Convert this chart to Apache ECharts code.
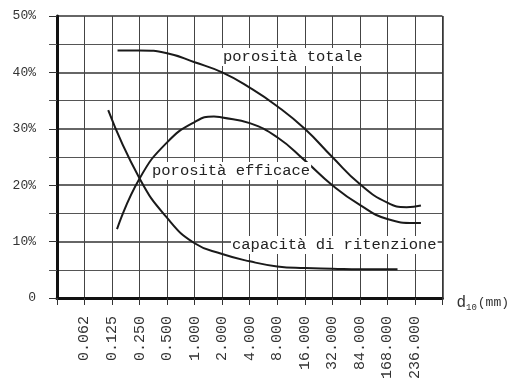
<!DOCTYPE html>
<html>
<head>
<meta charset="utf-8">
<script src="https://cdn.jsdelivr.net/npm/echarts@6/dist/echarts.min.js"></script>
<style>
  html, body { margin: 0; padding: 0; background: #fff; }
  #chart { width: 512px; height: 382px; }
</style>
</head>
<body>
<div id="chart"></div>
<script>
// Grain-size classes d10 (mm); the first and last slots are the frame edges
const sizeLabels = ['', '0.062', '0.125', '0.250', '0.500', '1.000', '2.000', '4.000',
  '8.000', '16.000', '32.000', '84.000', '168.000', '236.000', ''];

// Curves as [class position, percent]
const porositaTotale = [
  [2.2, 43.9], [3, 43.9], [4, 43.4], [5, 41.8], [6, 40.0], [7, 37.3], [8, 34.0],
  [9, 30.0], [10, 25.0], [11, 20.2], [12, 16.9], [12.7, 16.1], [13.22, 16.4]
];
const porositaEfficace = [
  [2.18, 12.2], [3, 21.2], [4, 27.6], [5, 31.2], [5.7, 32.2], [6, 32.0], [7, 31.0],
  [8, 28.5], [9, 24.4], [10, 20.0], [11, 16.5], [12, 14.0], [13, 13.3], [13.22, 13.3]
];
const capacitaRitenzione = [
  [1.86, 33.3], [3, 21.2], [4, 14.2], [5, 9.7], [6, 7.8], [7, 6.5], [8, 5.6],
  [9, 5.3], [10, 5.2], [11, 5.1], [12.37, 5.1]
];

const curveNames = ['porosità totale', 'porosità efficace', 'capacità di ritenzione'];

const mono = '"Liberation Mono", "DejaVu Sans Mono", monospace';
const ink = '#1a1a1a';

const chart = echarts.init(document.getElementById('chart'), null, { renderer: 'canvas' });

function curve(name, data) {
  return {
    name: name,
    type: 'line',
    data: data,
    smooth: 0.5,
    showSymbol: false,
    lineStyle: { color: ink, width: 2 },
    z: 5
  };
}

function curveLabel(text, x, y) {
  return {
    type: 'text',
    x: x, y: y,
    z: 50,
    style: {
      text: text,
      font: '15.5px ' + mono,
      fill: '#222',
      verticalAlign: 'middle',
      backgroundColor: '#fff',
      padding: [1, 1]
    }
  };
}

chart.setOption({
  backgroundColor: '#fff',
  animation: false,
  grid: { left: 57, right: 69, top: 16, bottom: 84 },
  xAxis: {
    type: 'value',
    min: 0, max: sizeLabels.length - 1, interval: 1,
    axisLine: { show: true, lineStyle: { color: '#111', width: 3 } },
    axisTick: { show: true, length: 7, lineStyle: { color: '#333', width: 1 } },
    axisLabel: {
      rotate: 90,
      margin: 18,
      showMinLabel: true, showMaxLabel: true,
      color: '#333',
      fontFamily: mono,
      fontSize: 15,
      formatter: v => sizeLabels[Math.round(v)] || ''
    },
    splitLine: { show: true, lineStyle: { color: '#444', width: 1 } },
    name: '{d|d}{s|10}{m|(mm)}',
    nameLocation: 'end',
    nameGap: 14,
    nameTextStyle: {
      align: 'left',
      padding: [10, 0, 0, 0],
      rich: {
        d: { fontFamily: mono, fontSize: 16, color: '#333' },
        s: { fontFamily: mono, fontSize: 9, color: '#333', padding: [9, 1, 0, 0] },
        m: { fontFamily: mono, fontSize: 13, color: '#333' }
      }
    }
  },
  yAxis: {
    type: 'value',
    min: 0, max: 50, interval: 10,
    axisLine: { show: true, lineStyle: { color: '#111', width: 3 } },
    axisTick: { show: true, length: 8, lineStyle: { color: '#333' } },
    minorTick: { show: true, splitNumber: 2, length: 8, lineStyle: { color: '#555' } },
    axisLabel: {
      margin: 21,
      color: '#333',
      fontFamily: mono,
      fontSize: 13,
      formatter: v => (v === 0 ? '0' : v + '%')
    },
    splitLine: { show: true, lineStyle: { color: '#333', width: 1.6 } },
    minorSplitLine: { show: true, lineStyle: { color: '#555', width: 1 } }
  },
  series: [
    curve(curveNames[0], porositaTotale),
    curve(curveNames[1], porositaEfficace),
    curve(curveNames[2], capacitaRitenzione)
  ],
  graphic: [
    // right frame edge
    {
      type: 'line', z: 4,
      shape: { x1: 443, y1: 16, x2: 443, y2: 298 },
      style: { stroke: '#333', lineWidth: 1.5 }
    },
    curveLabel(curveNames[0], 222, 57),
    curveLabel(curveNames[1], 151, 171),
    curveLabel(curveNames[2], 231, 245)
  ]
});
</script>
</body>
</html>
